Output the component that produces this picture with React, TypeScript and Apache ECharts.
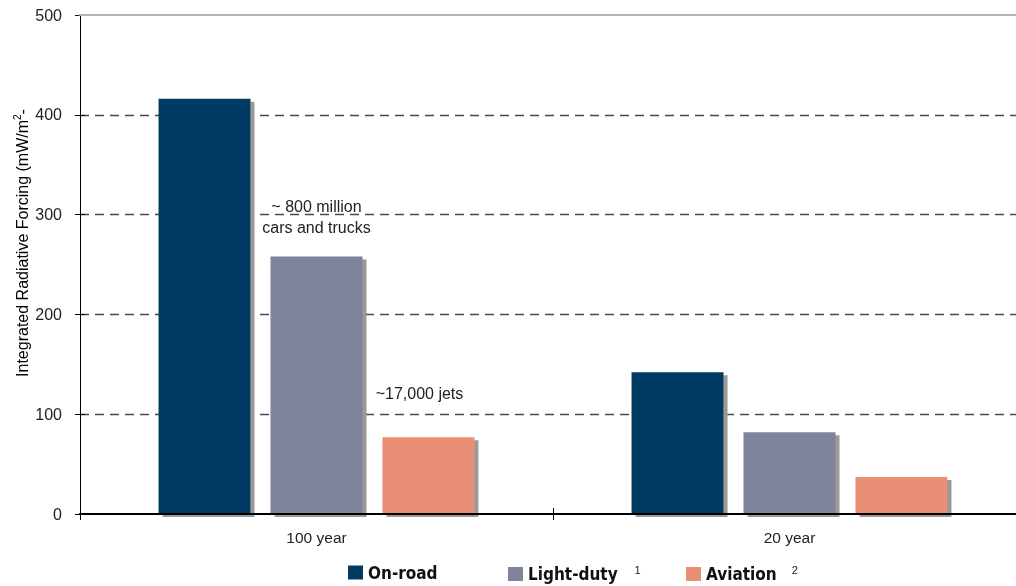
import React, { useEffect, useRef } from 'react';
import * as echarts from 'echarts';

const categories = ['100 year', '20 year'];
const seriesNames = ['On-road', 'Light-duty', 'Aviation'];
const onRoad = [416, 142];
const lightDuty = [258, 82];
const aviation = [77, 37];
const legendNotes = ['', '1', '2'];
const seriesColors = ['#033a63', '#7f849c', '#e98f75'];
const yAxisTitle = 'Integrated Radiative Forcing (mW/m';
const yAxisSup = '2';
const yAxisTail = '-';
const carsNote = '~ 800 million\ncars and trucks';
const jetsNote = '~17,000 jets';
const Y_MIN = 0;
const Y_MAX = 500;
const Y_STEP = 100;

const FONT = '"Liberation Sans", Arial, Helvetica, sans-serif';
const NARROW = '"Liberation Sans Narrow", "DejaVu Sans Condensed", "Liberation Sans", sans-serif';

export default function App() {
  const ref = useRef<HTMLDivElement>(null);
  useEffect(() => {
    if (!ref.current) return;
    const chart = echarts.init(ref.current, undefined, { renderer: 'svg' });

    const shadow = {
      shadowColor: '#9a9a9a',
      shadowOffsetX: 4,
      shadowOffsetY: 3,
      shadowBlur: 0,
    };
    const noteStyle = { color: '#222', fontFamily: FONT, fontSize: 16 };

    const lightDutyData = lightDuty.map((v, i) =>
      i === 0
        ? {
            value: v,
            label: {
              show: true,
              position: 'top',
              distance: 19,
              formatter: carsNote,
              lineHeight: 21,
              ...noteStyle,
            },
          }
        : v
    );
    const aviationData = aviation.map((v, i) =>
      i === 0
        ? {
            value: v,
            label: {
              show: true,
              position: 'top',
              distance: 36,
              offset: [-9, 0],
              formatter: jetsNote,
              ...noteStyle,
            },
          }
        : v
    );
    const datas = [onRoad, lightDutyData, aviationData];

    const legendLefts = [348, 508, 686];
    const notePads = [0, 17, 15];
    const legends = seriesNames.map((name, i) => ({
      data: [name],
      left: legendLefts[i],
      top: 564,
      padding: 0,
      orient: 'horizontal',
      itemWidth: 15,
      itemHeight: 14,
      icon: 'rect',
      itemStyle: { shadowBlur: 0, shadowOffsetX: 0, shadowOffsetY: 0, shadowColor: 'rgba(0,0,0,0)' },
      formatter: (n: string) => (legendNotes[i] ? `{n|${n}}{s|${legendNotes[i]}}` : `{n|${n}}`),
      textStyle: {
        rich: {
          n: { fontFamily: NARROW, fontWeight: 'bold', fontSize: 17, color: '#111', lineHeight: 20 },
          s: {
            fontFamily: FONT,
            fontSize: 11,
            color: '#222',
            verticalAlign: 'top',
            padding: [0, 0, 0, notePads[i]],
          },
        },
      },
    }));

    const splitColors = ['rgba(0,0,0,0)', '#4a4a4a', '#4a4a4a', '#4a4a4a', '#4a4a4a', 'rgba(0,0,0,0)'];

    chart.setOption({
      animation: false,
      grid: { left: 80, top: 15, width: 946, height: 499, containLabel: false },
      legend: legends,
      graphic: [
        {
          type: 'text',
          x: 22,
          y: 243,
          rotation: Math.PI / 2,
          style: {
            text: `{b|${yAxisTitle}}{sup|${yAxisSup}}{b|${yAxisTail}}`,
            align: 'center',
            verticalAlign: 'middle',
            rich: {
              b: { fontFamily: FONT, fontSize: 16, color: '#222', lineHeight: 20 },
              sup: { fontFamily: FONT, fontSize: 10, color: '#222', verticalAlign: 'top' },
            },
          },
        },
      ],
      xAxis: [
        {
          type: 'category',
          data: categories,
          position: 'bottom',
          axisLine: { show: true, onZero: false, lineStyle: { color: '#000', width: 2 } },
          axisTick: { show: true, length: 6, lineStyle: { color: '#000' } },
          axisLabel: { margin: 15, fontSize: 15.5, color: '#222', fontFamily: FONT },
          splitLine: { show: false },
          z: 5,
        },
        {
          type: 'category',
          data: categories,
          position: 'top',
          axisLine: { show: true, onZero: false, lineStyle: { color: '#b5b5b5', width: 2 } },
          axisTick: { show: false },
          axisLabel: { show: false },
          splitLine: { show: false },
          z: 5,
        },
        {
          type: 'category',
          data: categories,
          position: 'bottom',
          axisLine: { show: false, onZero: false },
          axisTick: { show: true, inside: true, length: 6, lineStyle: { color: '#000' } },
          axisLabel: { show: false },
          splitLine: { show: false },
        },
      ],
      yAxis: [
        {
          type: 'value',
          min: Y_MIN,
          max: Y_MAX,
          interval: Y_STEP,
          axisLine: { show: true, lineStyle: { color: '#000', width: 1 } },
          axisTick: { show: true, length: 5, lineStyle: { color: '#000' } },
          axisLabel: { margin: 18, fontSize: 16, color: '#222', fontFamily: FONT },
          splitLine: { show: true, lineStyle: { color: splitColors, width: 1.3, type: [9, 6] } },
        },
        {
          type: 'value',
          min: Y_MIN,
          max: Y_MAX,
          interval: Y_STEP,
          position: 'left',
          axisLine: { show: false },
          axisTick: { show: true, inside: true, length: 5, lineStyle: { color: '#000' } },
          axisLabel: { show: false },
          splitLine: { show: false },
        },
      ],
      series: seriesNames.map((name, i) => ({
        name,
        type: 'bar',
        xAxisIndex: 0,
        yAxisIndex: 0,
        barWidth: 92,
        barGap: '21.7%',
        itemStyle: { color: seriesColors[i], ...shadow },
        data: datas[i],
      })),
    });
    return () => chart.dispose();
  }, []);
  return (
    <div style={{ position: 'fixed', left: 0, top: 0, width: 1016, height: 586, overflow: 'hidden' }}>
      <div ref={ref} style={{ width: 1040, height: 586 }} />
    </div>
  );
}
